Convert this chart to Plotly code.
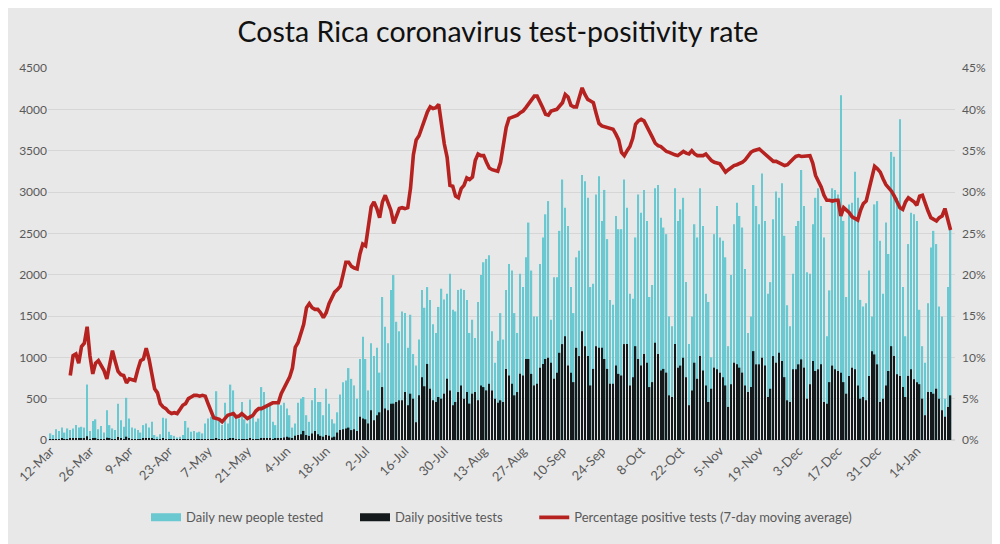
import pandas as pd
import plotly.graph_objects as go

start_date = "2020-03-12"

# Daily new people tested (one value per day from 12-Mar-2020)
tested = [
    80, 60, 130, 110, 150, 90, 140,
    120, 140, 180, 150, 160, 150, 670,
    110, 230, 250, 130, 170, 90, 360,
    180, 140, 120, 440, 240, 160, 510,
    260, 150, 140, 120, 90, 180, 200,
    150, 220, 60, 40, 70, 270, 260,
    100, 60, 50, 30, 40, 60, 230,
    150, 100, 110, 90, 100, 80, 200,
    260, 280, 270, 590, 250, 180, 450,
    200, 670, 600, 300, 260, 460, 250,
    200, 490, 300, 220, 260, 640, 580,
    430, 450, 220, 180, 470, 420, 450,
    380, 300, 150, 200, 450, 500, 520,
    300, 220, 480, 630, 460, 460, 300,
    620, 440, 250, 200, 335, 550, 700,
    720, 870, 740, 660, 500, 980, 1250,
    980, 600, 1170, 1015, 1115, 815, 1730,
    1370, 1170, 1815, 1995, 1430, 1315, 1555,
    1535, 1115, 1515, 1040, 900, 1215, 1815,
    1600, 1850, 1695, 1400, 1295, 1610, 1830,
    1700, 1770, 2010, 1575, 1555, 1815, 1830,
    1815, 1695, 1295, 1455, 1235, 1670, 1995,
    2150, 2190, 2235, 1315, 935, 1200, 1535,
    1215, 1815, 2130, 2050, 1535, 1295, 2010,
    1850, 2210, 2630, 2050, 1495, 1495, 2130,
    2450, 2730, 2890, 1455, 1970, 1970, 2530,
    3150, 2810, 2590, 1850, 1535, 2210, 2290,
    3205, 3130, 2930, 1850, 1890, 2970, 3190,
    2650, 3025, 2430, 1695, 1635, 2710, 2550,
    2550, 3150, 2810, 1770, 1710, 2450, 2970,
    2750, 3025, 2650, 1730, 1875, 3045, 3085,
    2690, 2570, 2490, 1495, 1375, 3045, 2650,
    2790, 2930, 1910, 1160, 1495, 2610, 2450,
    3045, 2590, 1770, 1670, 1000, 2490, 2830,
    2450, 2410, 2210, 1135, 1995, 2610, 2870,
    2710, 2570, 2070, 1295, 1495, 3085, 2830,
    2610, 3225, 2650, 1770, 1910, 2670, 3005,
    2930, 3105, 2470, 1630, 1375, 2010, 2590,
    2650, 3265, 2830, 2030, 2010, 2610, 2930,
    3045, 2830, 2450, 1255, 1810, 3045, 3025,
    2970, 4170, 2650, 1730, 2850, 2870, 3245,
    2930, 1695, 1615, 1655, 2050, 1495, 2850,
    2890, 2410, 1770, 2630, 2250, 3485, 3425,
    2930, 3880, 1850, 1255, 2370, 2750, 2730,
    2650, 1575, 1135, 935, 1655, 2330, 2530,
    2370, 1615, 1495, 500, 1850, 2550,
]

# Daily positive tests
positives = [
    5, 4, 10, 9, 14, 8, 12,
    13, 17, 18, 14, 20, 18, 45,
    10, 22, 25, 10, 12, 8, 28,
    15, 12, 10, 35, 20, 12, 40,
    18, 10, 9, 8, 6, 15, 18,
    14, 20, 4, 3, 5, 14, 12,
    5, 3, 2, 1, 2, 3, 10,
    8, 5, 6, 4, 5, 4, 10,
    12, 10, 8, 15, 6, 4, 10,
    5, 16, 15, 8, 7, 12, 8,
    6, 14, 9, 8, 10, 22, 20,
    18, 20, 10, 15, 20, 25, 30,
    40, 30, 20, 50, 60, 70, 110,
    60, 50, 80, 110, 70, 50, 40,
    60, 50, 30, 40, 90, 120, 130,
    140, 150, 120, 130, 110, 280, 260,
    250, 200, 360, 240, 300, 335, 640,
    380, 360, 440, 440, 460, 480, 480,
    580, 420, 560, 500, 215, 540, 760,
    650, 920, 620, 480, 460, 520, 500,
    560, 740, 600, 420, 460, 580, 660,
    500, 580, 440, 560, 580, 480, 660,
    640, 600, 680, 600, 500, 450, 480,
    460, 860, 780, 680, 540, 580, 800,
    780, 980, 980, 800, 660, 680, 875,
    920, 980, 995, 935, 740, 815, 1055,
    1160, 1255, 900, 815, 700, 1115, 1015,
    1315, 1135, 1015, 660, 860, 1135, 1115,
    1115, 980, 860, 680, 680, 900, 800,
    780, 1160, 1160, 660, 760, 1135, 980,
    900, 1040, 935, 640, 700, 1175, 1040,
    840, 860, 815, 540, 520, 1160, 875,
    900, 995, 760, 420, 600, 935, 740,
    1015, 840, 660, 460, 620, 875, 855,
    815, 760, 660, 400, 675, 935, 915,
    875, 815, 660, 580, 640, 1075, 915,
    915, 995, 900, 520, 620, 1015, 935,
    1055, 955, 760, 480, 460, 855, 855,
    915, 975, 875, 500, 675, 955, 835,
    855, 915, 460, 440, 700, 900, 855,
    835, 815, 700, 560, 775, 875, 855,
    660, 500, 520, 480, 775, 1075, 1035,
    915, 460, 500, 660, 835, 1135, 1015,
    795, 775, 640, 520, 775, 855, 735,
    700, 675, 500, 300, 580, 580, 560,
    620, 500, 360, 280, 400, 540,
]

# Percentage positive tests, 7-day moving average (%), first 7 days have no value
pct = [None] * 7 + [
    7.8, 10.2, 10.4, 9.3, 11.3, 11.7, 13.7,
    10.2, 8.0, 9.3, 9.6, 9.0, 8.4, 7.4,
    9.0, 10.8, 9.5, 8.3, 7.9, 7.8, 6.9,
    7.4, 7.3, 7.2, 8.5, 9.6, 9.8, 11.1,
    9.8, 8.0, 6.2, 5.7, 4.4, 4.0, 3.8,
    3.4, 3.2, 3.3, 3.2, 3.7, 4.2, 4.4,
    5.0, 5.2, 5.4, 5.4, 5.3, 5.4, 5.3,
    4.4, 3.4, 2.7, 2.6, 2.5, 2.2, 2.6,
    3.0, 3.1, 3.2, 2.8, 2.9, 3.2, 2.9,
    2.6, 2.8, 3.0, 3.5, 3.8, 3.8, 4.0,
    4.2, 4.3, 4.5, 4.5, 4.5, 5.6, 6.3,
    6.9, 7.6, 8.7, 11.2, 11.8, 12.8, 14.0,
    16.0, 16.5, 16.0, 15.8, 15.8, 15.4, 14.8,
    15.4, 16.5, 17.2, 17.9, 18.2, 18.6, 20.0,
    21.5, 21.5, 21.0, 20.8, 20.7, 22.5, 23.7,
    23.5, 26.0, 28.2, 28.8, 28.0, 26.9, 28.8,
    29.6, 28.8, 27.8, 26.2, 27.0, 28.0, 28.1,
    28.0, 28.1, 30.5, 34.5, 36.3, 36.8, 37.8,
    39.0, 39.7, 40.3, 40.1, 40.2, 40.6, 38.2,
    35.8, 34.2, 30.8, 30.7, 29.5, 29.3, 30.4,
    30.8, 31.7, 31.5, 31.8, 33.8, 34.6, 34.4,
    34.4, 33.6, 32.9, 32.7, 32.6, 32.5, 33.6,
    35.5, 37.8, 38.9, 39.0, 39.1, 39.3, 39.6,
    39.8, 40.2, 40.7, 41.2, 41.6, 41.6, 41.0,
    40.2, 39.4, 39.3, 39.8, 39.9, 40.0, 40.4,
    40.8, 41.8, 41.5, 40.5, 40.3, 40.3, 41.5,
    42.6, 41.8, 41.2, 41.0, 40.8, 39.5, 38.3,
    38.0, 37.9, 37.8, 37.7, 37.6, 37.0, 36.3,
    34.8, 34.4, 35.0, 35.5, 36.5, 38.2, 38.6,
    38.8, 38.6, 38.0, 37.3, 36.6, 35.9, 35.6,
    35.5, 35.2, 34.9, 34.8, 34.6, 34.5, 34.4,
    34.6, 34.9, 34.7, 34.6, 35.0, 34.6, 34.4,
    34.4, 34.4, 34.6, 34.2, 33.8, 33.6, 33.5,
    33.4, 32.9, 32.4, 32.7, 33.0, 33.2, 33.3,
    33.4, 33.6, 33.9, 34.3, 34.8, 35.0, 35.1,
    35.2, 34.9, 34.6, 34.2, 33.9, 33.7, 33.7,
    33.5, 33.3, 33.2, 33.3, 33.7, 34.0, 34.3,
    34.4, 34.3, 34.3, 34.4, 34.4, 33.5, 32.0,
    31.3, 30.6, 29.6, 29.0, 29.0, 28.9, 29.0,
    29.0, 27.1, 28.1, 27.8, 27.5, 27.0, 26.8,
    26.6, 27.8, 28.6, 28.9, 30.2, 31.8, 33.1,
    32.8, 32.4, 31.6, 30.9, 30.5, 30.1, 29.5,
    28.8, 28.1, 27.9, 28.8, 29.3, 29.1, 28.8,
    28.4, 29.5, 29.6, 28.5, 27.7, 26.9, 26.7,
    26.5, 26.9, 27.1, 28.0, 26.8, 25.4,
]

assert len(tested) == len(positives) == len(pct), (len(tested), len(positives), len(pct))

dates = pd.date_range(start_date, periods=len(tested), freq="D")
pct_frac = [None if v is None else v / 100 for v in pct]

left_ticks = list(range(0, 4501, 500))
right_ticks = [i / 100 for i in range(0, 46, 5)]
right_labels = [f"{i}%" for i in range(0, 46, 5)]

CYAN = "#6ac8d1"
BLACK = "#141a1b"
RED = "#b5221f"
TICK = "#595959"
FONT = "Lato"

fig = go.Figure()
fig.add_trace(go.Bar(x=dates, y=tested, marker_color=CYAN, marker_line_width=0,
                     showlegend=False, name="Daily new people tested"))
fig.add_trace(go.Bar(x=dates, y=positives, marker_color=BLACK, marker_line_width=0,
                     showlegend=False, name="Daily positive tests"))
fig.add_trace(go.Scatter(x=dates, y=pct_frac, mode="lines", yaxis="y2",
                         line=dict(color=RED, width=3.6), showlegend=False,
                         name="Percentage positive tests (7-day moving average)"))

# legend swatches
fig.add_trace(go.Scatter(x=[None], y=[None], mode="lines", line=dict(color=CYAN, width=8),
                         name="Daily new people tested        "))
fig.add_trace(go.Scatter(x=[None], y=[None], mode="lines", line=dict(color=BLACK, width=8),
                         name="Daily positive tests        "))
fig.add_trace(go.Scatter(x=[None], y=[None], mode="lines", line=dict(color=RED, width=3.6),
                         name="Percentage positive tests (7-day moving average)"))

# the page body has an 8px margin, so the figure is 8px smaller than the window
W, H = 992, 536

fig.update_layout(
    width=W, height=H,
    paper_bgcolor="#e8e8e8", plot_bgcolor="#e8e8e8",
    margin=dict(l=40, r=45, t=60, b=99),
    barmode="overlay", bargap=0.5,
    font=dict(family=FONT, color=TICK, size=12),
    title=dict(text="Costa Rica coronavirus test-positivity rate",
               x=490 / W, xanchor="center", y=1 - 24 / H, yanchor="middle",
               yref="container",
               font=dict(family=FONT, size=28.5, color="#111111")),
    xaxis=dict(type="date",
               range=[pd.Timestamp(start_date) - pd.Timedelta(hours=22),
                      pd.Timestamp(start_date) + pd.Timedelta(days=len(tested) - 1, hours=38)],
               tick0=start_date, dtick=14 * 86400000, tickformat="%-d-%b",
               tickangle=-45, showgrid=False, zeroline=False, ticks="",
               tickfont=dict(size=13, color=TICK), automargin=False),
    yaxis=dict(range=[0, 4500], tickvals=left_ticks, showgrid=True,
               gridcolor="#d6d6d6", gridwidth=1, zeroline=True, zerolinecolor="#d6d6d6",
               ticks="", ticklabelstandoff=0, tickfont=dict(size=12, color=TICK),
               automargin=False),
    yaxis2=dict(range=[0, 0.45], tickvals=right_ticks, ticktext=right_labels,
                overlaying="y", side="right", showgrid=False, zeroline=False,
                ticks="", ticklabelstandoff=6, tickfont=dict(size=12, color=TICK),
                automargin=False),
    legend=dict(orientation="h", x=0.5, xanchor="center", y=-0.208, yanchor="middle",
                font=dict(size=13, color=TICK, family=FONT), itemwidth=30,
                bgcolor="rgba(0,0,0,0)"),
)

fig.write_html("out.html")
